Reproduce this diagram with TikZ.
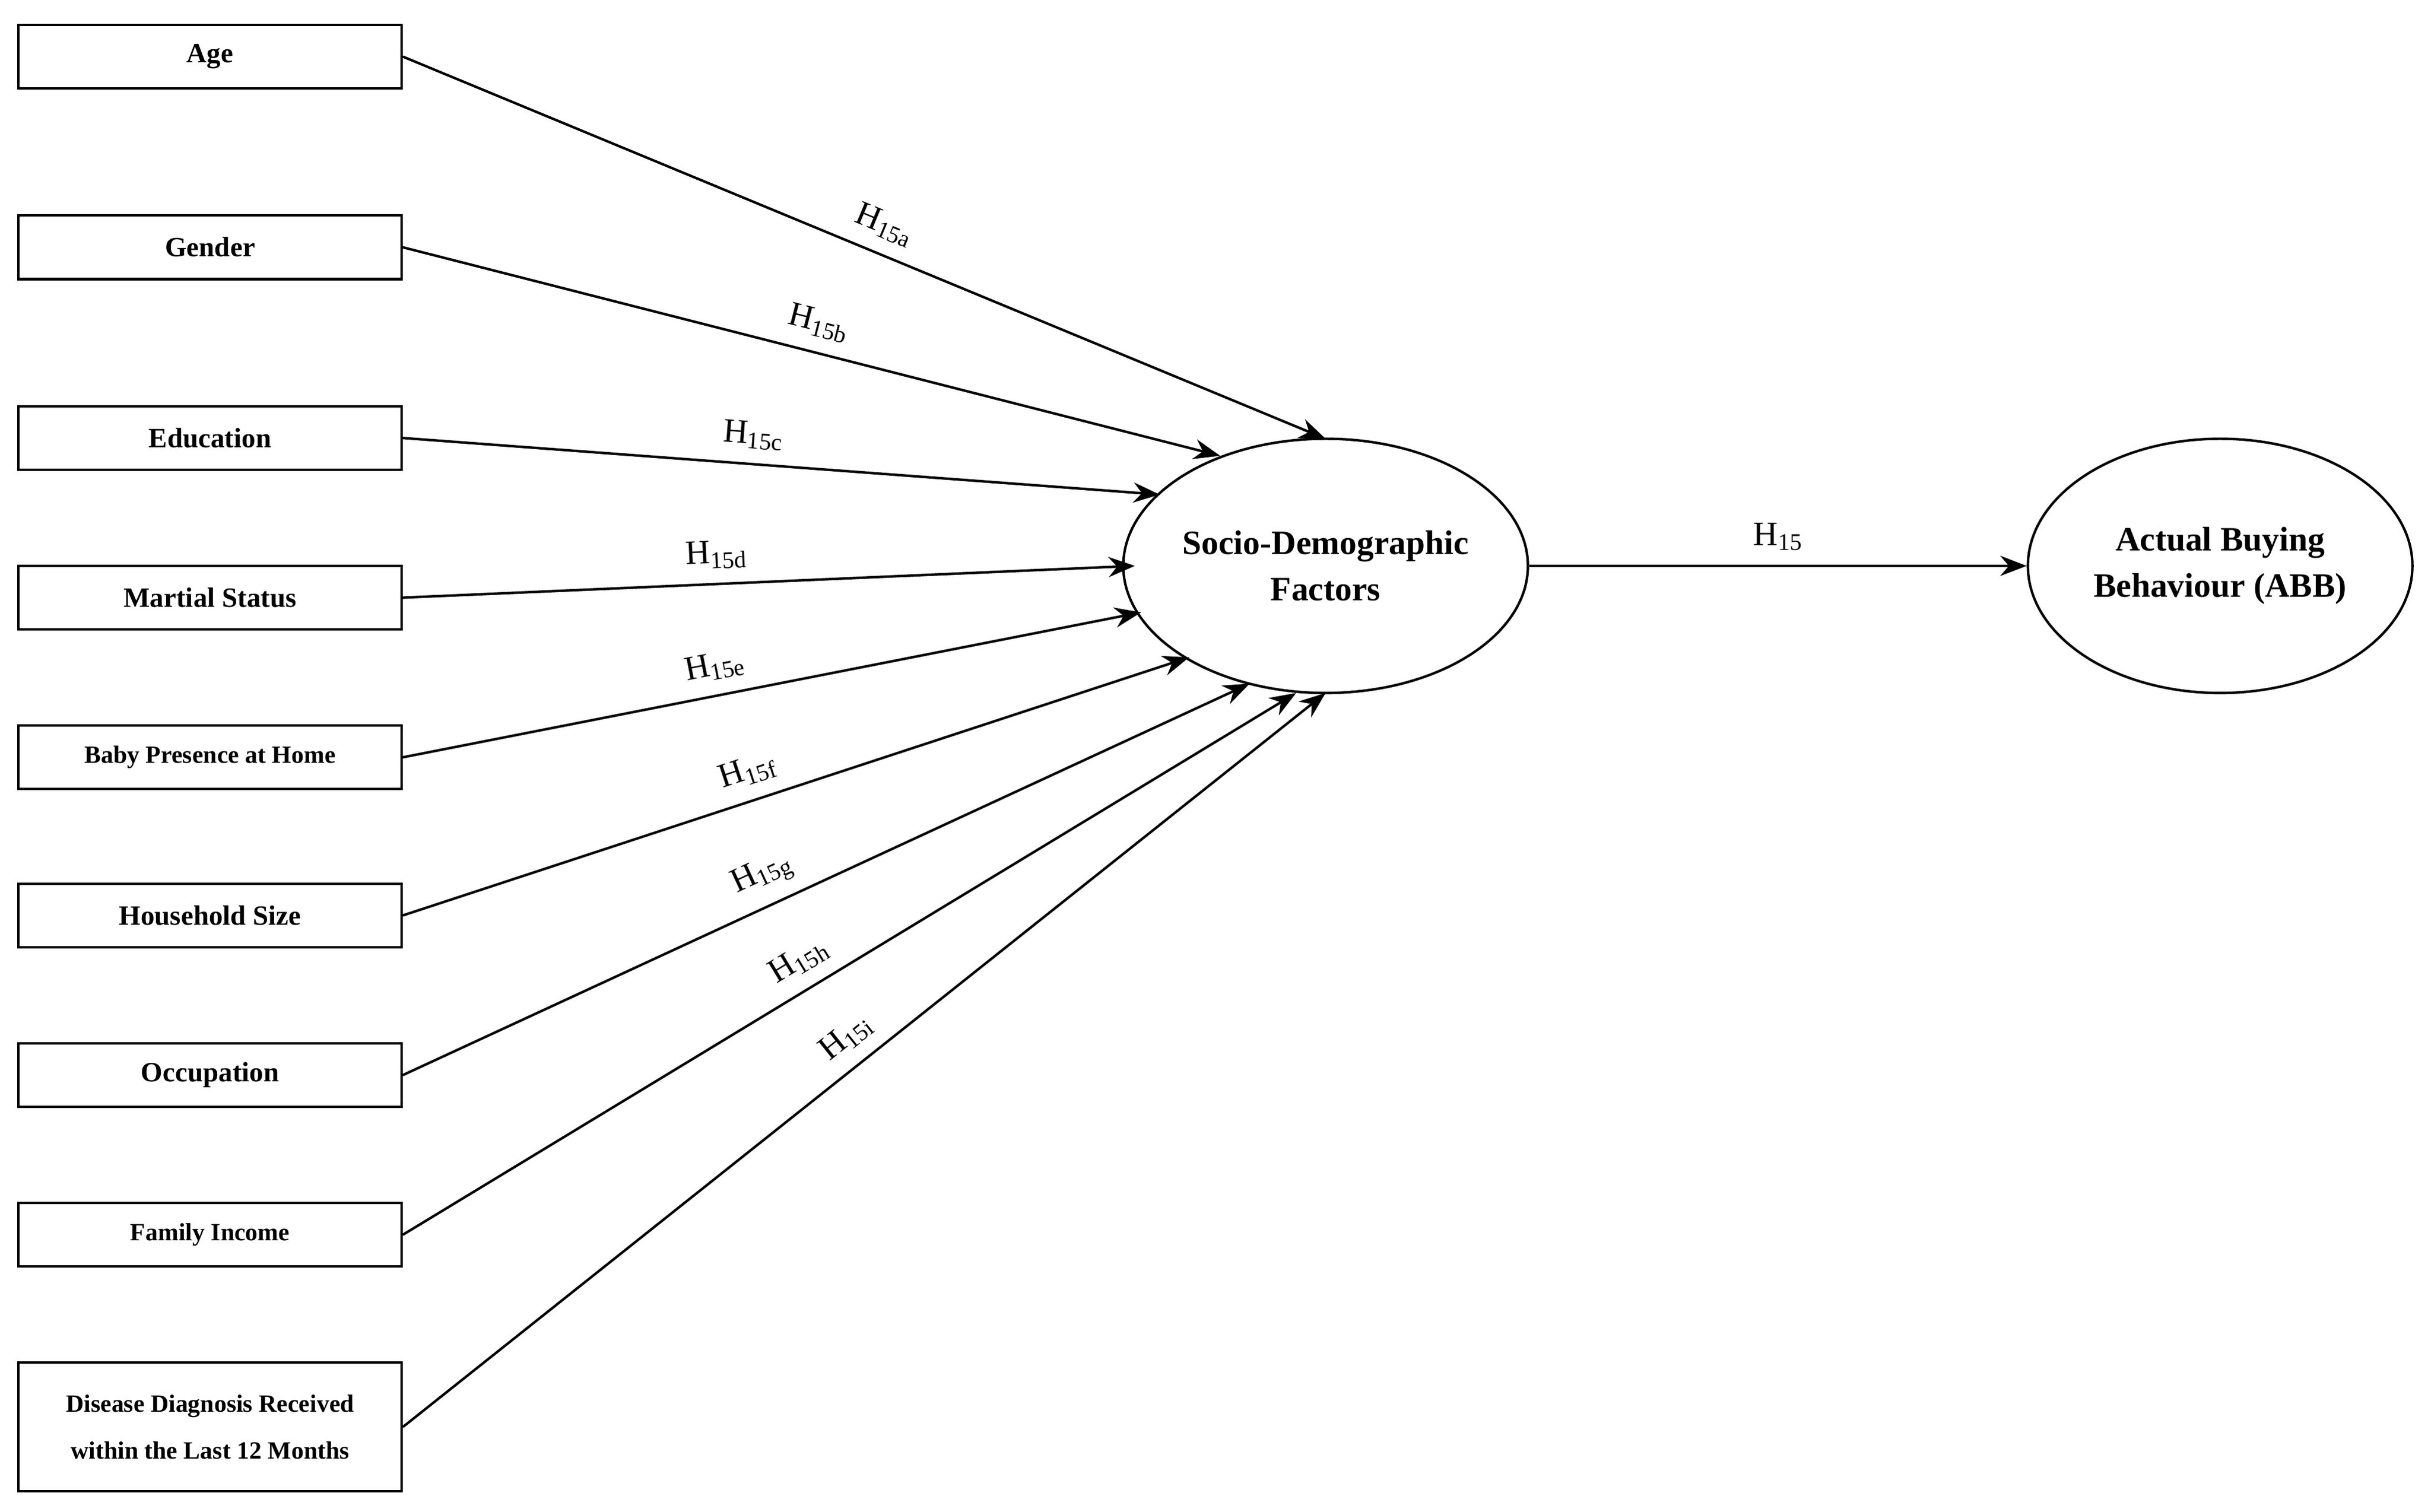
\documentclass[tikz,border=0pt]{standalone}
\usepackage{fontspec}
\setmainfont{Liberation Serif}
\usetikzlibrary{shapes.geometric,arrows.meta}
\begin{document}
\begin{tikzpicture}[x=1pt,y=-1pt,
 box/.style={draw,line width=1.6pt,minimum width=247pt,minimum height=41pt,inner sep=0pt,font=\fontsize{18}{20}\selectfont\bfseries,align=center},
 ell/.style={draw,ellipse,line width=1.6pt,minimum width=246pt,minimum height=164pt,inner sep=0pt,font=\fontsize{22}{30}\selectfont\bfseries,align=center},
 arr/.style={line width=1.6pt,-{Stealth[length=17pt,width=13pt]}},
 lab/.style={sloped,above,font=\fontsize{22}{24}\selectfont,inner sep=9pt}]
\useasboundingbox (0,0) rectangle (1568,975);
\node[box] (age) at (135.5,36.5) {Age};
\node[box] (gen) at (135.5,159.5) {Gender};
\node[box] (edu) at (135.5,282.5) {Education};
\node[box] (mar) at (135.5,385.5) {Martial Status};
\node[box,font=\fontsize{16}{18}\selectfont\bfseries] (bab) at (135.5,488.5) {Baby Presence at Home};
\node[box] (hou) at (135.5,590.5) {Household Size};
\node[box] (occ) at (135.5,693.5) {Occupation};
\node[box,font=\fontsize{16}{18}\selectfont\bfseries] (fam) at (135.5,796.5) {Family Income};
\node[box,minimum height=83pt,font=\fontsize{16}{30}\selectfont\bfseries] (dis) at (135.5,920.5) {Disease Diagnosis Received\\within the Last 12 Months};
\node[ell] (sdf) at (855,365) {Socio-Demographic\\Factors};
\node[ell,minimum width=248pt] (abb) at (1432,365) {Actual Buying\\Behaviour (ABB)};
\coordinate (ta) at (855,283);
\coordinate (tb) at (787,294);
\coordinate (tc) at (748,319);
\coordinate (td) at (732,365);
\coordinate (te) at (736,395);
\coordinate (tf) at (767,424);
\coordinate (tg) at (806,441);
\coordinate (th) at (836,447);
\coordinate (ti) at (855,447);
\draw[arr] (age.east) -- node[lab,pos=0.51]{H\textsubscript{15a}} (ta);
\draw[arr] (gen.east) -- node[lab,pos=0.5]{H\textsubscript{15b}} (tb);
\draw[arr] (edu.east) -- node[lab,pos=0.46]{H\textsubscript{15c}} (tc);
\draw[arr] (mar.east) -- node[lab,pos=0.43]{H\textsubscript{15d}} (td);
\draw[arr] (bab.east) -- node[lab,pos=0.43]{H\textsubscript{15e}} (te);
\draw[arr] (hou.east) -- node[lab,pos=0.45]{H\textsubscript{15f}} (tf);
\draw[arr] (occ.east) -- node[lab,pos=0.44]{H\textsubscript{15g}} (tg);
\draw[arr] (fam.east) -- node[lab,pos=0.46]{H\textsubscript{15h}} (th);
\draw[arr] (dis.east) -- node[lab,pos=0.5]{H\textsubscript{15i}} (ti);
\draw[arr] (sdf.east) -- node[lab,pos=0.5]{H\textsubscript{15}} (abb.west);
\end{tikzpicture}
\end{document}
